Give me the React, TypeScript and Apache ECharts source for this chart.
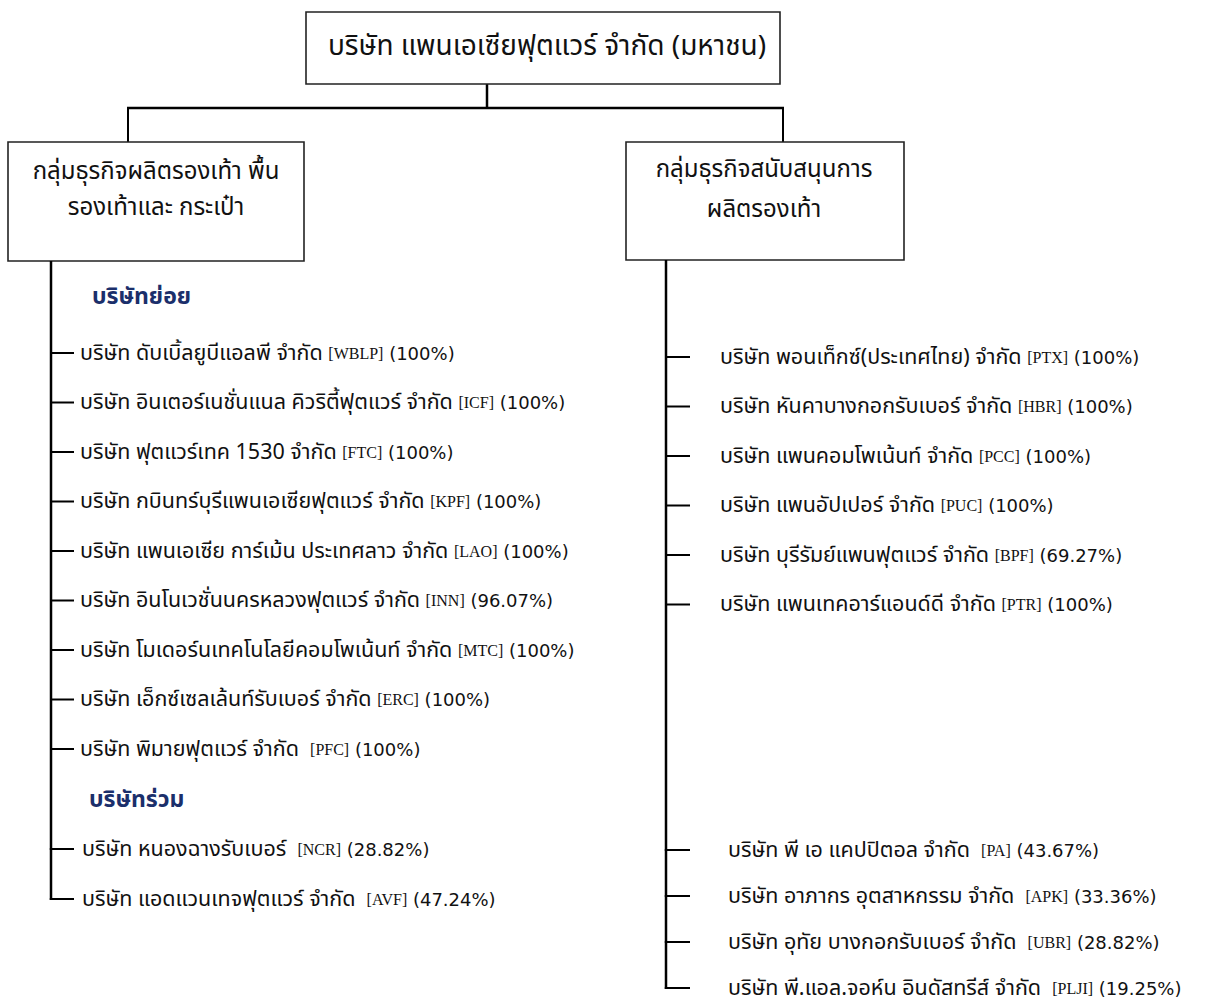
import React, { useEffect, useRef } from "react";
import * as echarts from "echarts";

const topTitle = "บริษัท แพนเอเซียฟุตแวร์ จำกัด (มหาชน)";
const leftGroupLines = ["กลุ่มธุรกิจผลิตรองเท้า พื้น", "รองเท้าและ กระเป๋า"];
const rightGroupLines = ["กลุ่มธุรกิจสนับสนุนการ", "ผลิตรองเท้า"];
const subHeader = "บริษัทย่อย";
const assocHeader = "บริษัทร่วม";

const leftSubNames = [
  "บริษัท ดับเบิ้ลยูบีแอลพี จำกัด",
  "บริษัท อินเตอร์เนชั่นแนล คิวริตี้ฟุตแวร์ จำกัด",
  "บริษัท ฟุตแวร์เทค 1530 จำกัด",
  "บริษัท กบินทร์บุรีแพนเอเซียฟุตแวร์ จำกัด",
  "บริษัท แพนเอเซีย การ์เม้น ประเทศลาว จำกัด",
  "บริษัท อินโนเวชั่นนครหลวงฟุตแวร์ จำกัด",
  "บริษัท โมเดอร์นเทคโนโลยีคอมโพเน้นท์ จำกัด",
  "บริษัท เอ็กซ์เซลเล้นท์รับเบอร์ จำกัด",
  "บริษัท พิมายฟุตแวร์ จำกัด ",
];
const leftSubCodes = ["WBLP", "ICF", "FTC", "KPF", "LAO", "INN", "MTC", "ERC", "PFC"];
const leftSubPcts = ["100%", "100%", "100%", "100%", "100%", "96.07%", "100%", "100%", "100%"];

const leftAssocNames = ["บริษัท หนองฉางรับเบอร์ ", "บริษัท แอดแวนเทจฟุตแวร์ จำกัด "];
const leftAssocCodes = ["NCR", "AVF"];
const leftAssocPcts = ["28.82%", "47.24%"];

const rightSubNames = [
  "บริษัท พอนเท็กซ์(ประเทศไทย) จำกัด",
  "บริษัท หันคาบางกอกรับเบอร์ จำกัด",
  "บริษัท แพนคอมโพเน้นท์ จำกัด",
  "บริษัท แพนอัปเปอร์ จำกัด",
  "บริษัท บุรีรัมย์แพนฟุตแวร์ จำกัด",
  "บริษัท แพนเทคอาร์แอนด์ดี จำกัด",
];
const rightSubCodes = ["PTX", "HBR", "PCC", "PUC", "BPF", "PTR"];
const rightSubPcts = ["100%", "100%", "100%", "100%", "69.27%", "100%"];

const rightAssocNames = [
  "บริษัท พี เอ แคปปิตอล จำกัด ",
  "บริษัท อาภากร อุตสาหกรรม จำกัด ",
  "บริษัท อุทัย บางกอกรับเบอร์ จำกัด ",
  "บริษัท พี.แอล.จอห์น อินดัสทรีส์ จำกัด ",
];
const rightAssocCodes = ["PA", "APK", "UBR", "PLJI"];
const rightAssocPcts = ["43.67%", "33.36%", "28.82%", "19.25%"];

const THAI = "Tahoma, 'Noto Sans Thai', 'Noto Sans', 'DejaVu Sans', sans-serif";
const SERIF = "'Liberation Serif', 'DejaVu Serif', serif";
const WIDE = "'DejaVu Sans', Verdana, sans-serif";
const STROKE = "#000";

const rich = {
  n: { fontFamily: THAI, fontSize: 21.5, fill: "#111", lineHeight: 22 },
  c: { fontFamily: SERIF, fontSize: 16, fill: "#111", lineHeight: 22 },
  p: { fontFamily: WIDE, fontSize: 18, fill: "#111", lineHeight: 22 },
};

function itemText(name: string, code: string, pct: string) {
  return `{n|${name} }{c|[${code}]}{p| (${pct})}`;
}

function line(x1: number, y1: number, x2: number, y2: number, w = 2) {
  return { type: "line", shape: { x1, y1, x2, y2 }, style: { stroke: STROKE, lineWidth: w }, silent: true };
}

function rect(x: number, y: number, width: number, height: number) {
  return {
    type: "rect",
    shape: { x, y, width, height },
    style: { fill: "#fff", stroke: "#222", lineWidth: 1.6 },
    silent: true,
  };
}

function txt(x: number, y: number, text: string, extra: any = {}) {
  return {
    type: "text",
    x,
    y,
    style: { text, verticalAlign: "middle", align: "left", ...extra },
    silent: true,
  };
}

function buildGraphics() {
  const g: any[] = [];
  // connectors
  g.push(line(487, 84, 487, 108, 2.5));
  g.push(line(127, 108, 784, 108, 2.5));
  g.push(line(128, 108, 128, 142, 2));
  g.push(line(783, 108, 783, 142, 2));

  // boxes
  g.push(rect(306, 12, 474, 72));
  g.push(txt(547, 46, topTitle, { align: "center", fontFamily: THAI, fontSize: 28, fill: "#111" }));
  g.push(rect(8, 142, 296, 119));
  leftGroupLines.forEach((t, i) =>
    g.push(txt(156, 172 + i * 36, t, { align: "center", fontFamily: THAI, fontSize: 24, fill: "#111" }))
  );
  g.push(rect(626, 142, 278, 118));
  rightGroupLines.forEach((t, i) =>
    g.push(txt(764, 170 + i * 40, t, { align: "center", fontFamily: THAI, fontSize: 24, fill: "#111" }))
  );

  // left spine
  const lx = 51;
  const leftSubStart = 353;
  const leftSubStep = 49.5;
  const leftAssocStart = 849;
  const leftAssocStep = 50;
  const leftEnd = leftAssocStart + (leftAssocNames.length - 1) * leftAssocStep;
  g.push(line(lx, 261, lx, leftEnd + 1, 2.5));
  g.push(
    txt(92, 297, subHeader, { fontFamily: THAI, fontSize: 23, fontWeight: "bold", fill: "#1b2f6b" })
  );
  leftSubNames.forEach((n, i) => {
    const y = leftSubStart + i * leftSubStep;
    g.push(line(lx, y, 74, y, 2));
    g.push(txt(80, y, itemText(n, leftSubCodes[i], leftSubPcts[i]), { rich }));
  });
  g.push(
    txt(89, 800, assocHeader, { fontFamily: THAI, fontSize: 23, fontWeight: "bold", fill: "#1b2f6b" })
  );
  leftAssocNames.forEach((n, i) => {
    const y = leftAssocStart + i * leftAssocStep;
    g.push(line(lx - 1.2, y, 74, y, 2));
    g.push(txt(82, y, itemText(n, leftAssocCodes[i], leftAssocPcts[i]), { rich }));
  });

  // right spine
  const rx = 666;
  const rightSubStart = 357;
  const rightSubStep = 49.5;
  const rightAssocStart = 850;
  const rightAssocStep = 46;
  const rightEnd = rightAssocStart + (rightAssocNames.length - 1) * rightAssocStep;
  g.push(line(rx, 260, rx, rightEnd + 1, 2.5));
  rightSubNames.forEach((n, i) => {
    const y = rightSubStart + i * rightSubStep;
    g.push(line(rx, y, 690, y, 2));
    g.push(txt(720, y, itemText(n, rightSubCodes[i], rightSubPcts[i]), { rich }));
  });
  rightAssocNames.forEach((n, i) => {
    const y = rightAssocStart + i * rightAssocStep;
    g.push(line(rx - 1.2, y, 690, y, 2));
    g.push(txt(728, y, itemText(n, rightAssocCodes[i], rightAssocPcts[i]), { rich }));
  });
  return g;
}

export default function App() {
  const ref = useRef<HTMLDivElement>(null);
  useEffect(() => {
    document.body.style.margin = "0";
    const chart = echarts.init(ref.current!, null, { renderer: "svg" });
    chart.setOption({
      animation: false,
      backgroundColor: "#ffffff",
      graphic: { elements: buildGraphics() },
    });
    return () => chart.dispose();
  }, []);
  return <div ref={ref} style={{ width: 1205, height: 1003 }} />;
}
